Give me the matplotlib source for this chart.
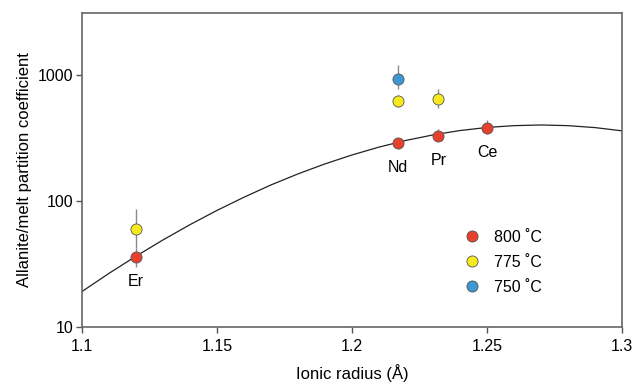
import numpy as np
import matplotlib
matplotlib.use("Agg")
import matplotlib.pyplot as plt

plt.rcParams['font.family'] = ['Liberation Sans', 'DejaVu Sans']

# measured partition coefficients (value, lower, upper)
elements = ['Er', 'Nd', 'Pr', 'Ce']
radius = [1.12, 1.217, 1.232, 1.25]

d_800 = [36, 291, 331, 381]
d_800_lo = [30, 272, 311, 340]
d_800_hi = [42, 312, 372, 440]

r_775 = [1.12, 1.217, 1.232]
d_775 = [60, 625, 651]
d_775_lo = [42, 562, 546]
d_775_hi = [86, 697, 774]

r_750 = [1.217]
d_750 = [935]
d_750_lo = [780]
d_750_hi = [1208]

# lattice strain fit curve
fit_r = [1.10, 1.11, 1.12, 1.13, 1.14, 1.15, 1.16, 1.17, 1.18, 1.19, 1.20,
         1.21, 1.22, 1.23, 1.24, 1.25, 1.26, 1.27, 1.28, 1.29, 1.30]
fit_d = [19.0, 26.5, 36.3, 48.9, 64.7, 84, 107, 134, 164, 197, 232,
         268, 303, 335, 363, 384, 397, 402, 397, 383, 361]

c_red = '#e8412b'
c_yellow = '#f7ea1c'
c_blue = '#3d97d3'


def yerr(vals, lo, hi):
    v = np.array(vals)
    return [v - np.array(lo), np.array(hi) - v]


fig = plt.figure(figsize=(6.44, 3.83), dpi=100)
ax = fig.add_axes([0.127, 0.147, 0.839, 0.818])

ax.plot(fit_r, fit_d, color='#222222', lw=0.9, zorder=1)

marker_kw = dict(fmt='o', ms=8, mec='#555555', mew=0.6, ecolor='#8a8a8a',
                 elinewidth=1.0, capsize=0, zorder=3)
ax.errorbar(r_775, d_775, yerr=yerr(d_775, d_775_lo, d_775_hi),
            mfc=c_yellow, label='775 \u02daC', **marker_kw)
ax.errorbar(r_750, d_750, yerr=yerr(d_750, d_750_lo, d_750_hi),
            mfc=c_blue, label='750 \u02daC', **marker_kw)
ax.errorbar(radius, d_800, yerr=yerr(d_800, d_800_lo, d_800_hi),
            mfc=c_red, label='800 \u02daC', **marker_kw)

for name, r, d in zip(elements, radius, d_800):
    ax.annotate(name, (r, d), xytext=(0, -18), textcoords='offset points',
                ha='center', va='center', fontsize=11.5)

ax.set_yscale('log')
ax.set_xlim(1.1, 1.3)
ax.set_ylim(10, 3100)
ax.set_xticks([1.1, 1.15, 1.2, 1.25, 1.3])
ax.set_xticklabels(['1.1', '1.15', '1.2', '1.25', '1.3'])
ax.set_yticks([10, 100, 1000])
ax.set_yticklabels(['10', '100', '1000'])
ax.yaxis.set_minor_locator(matplotlib.ticker.NullLocator())
ax.tick_params(labelsize=11.5, length=4, width=1, color='#555555', pad=2)
ax.tick_params(axis='x', pad=5)

for s in ax.spines.values():
    s.set_color('#666666')
    s.set_linewidth(1.2)

ax.set_xlabel('Ionic radius (\u00c5)', fontsize=12, labelpad=7)
ax.set_ylabel('Allanite/melt partition coefficient', fontsize=12, labelpad=4)

handles, labels = ax.get_legend_handles_labels()
order = [2, 0, 1]
leg = ax.legend([handles[i][0] for i in order], [labels[i] for i in order],
                loc='upper left', bbox_to_anchor=(0.68, 0.355), frameon=False,
                fontsize=11.5, handletextpad=0.9, labelspacing=0.62,
                handlelength=1.0)

fig.savefig('out.png', dpi=100)
